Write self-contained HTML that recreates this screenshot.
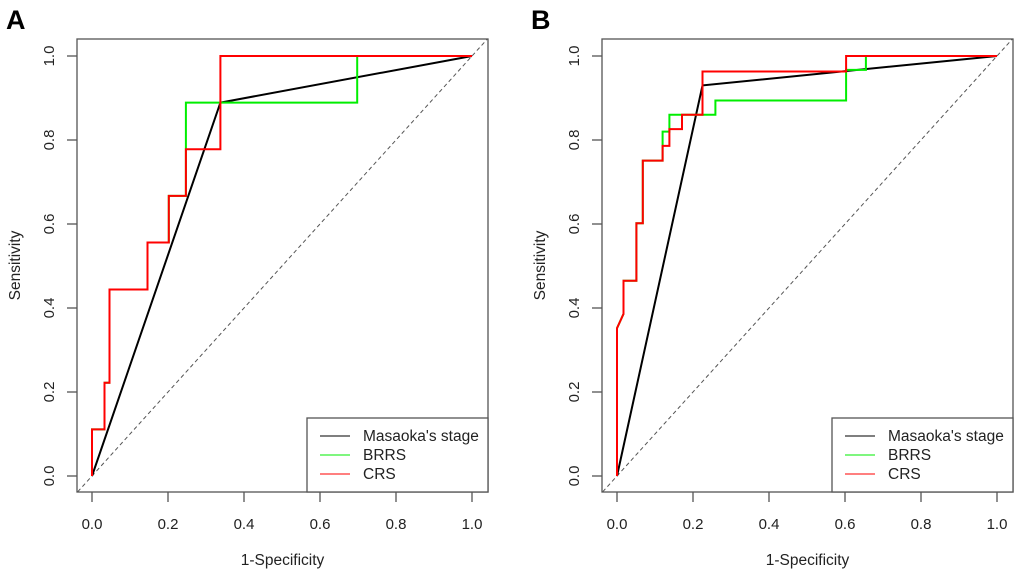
<!DOCTYPE html>
<html><head><meta charset="utf-8"><style>
html,body{margin:0;padding:0;background:#fff;}
svg{display:block;font-family:"Liberation Sans",sans-serif;}
</style></head><body>
<svg id="chart" width="1020" height="573" viewBox="0 0 1020 573"></svg>
<script>
// Panel A data
const aMasaokaX=[0,0.338,1];
const aMasaokaY=[0,0.889,1];
const aBrrsX=[0,0,0.033,0.033,0.046,0.046,0.146,0.146,0.202,0.202,0.247,0.247,0.698,0.698,1];
const aBrrsY=[0,0.111,0.111,0.222,0.222,0.444,0.444,0.556,0.556,0.667,0.667,0.889,0.889,1,1];
const aCrsX=[0,0,0.033,0.033,0.046,0.046,0.146,0.146,0.202,0.202,0.247,0.247,0.338,0.338,1];
const aCrsY=[0,0.111,0.111,0.222,0.222,0.444,0.444,0.556,0.556,0.667,0.667,0.778,0.778,1,1];
// Panel B data
const bMasaokaX=[0,0.225,1];
const bMasaokaY=[0,0.93,1];
const bBrrsX=[0,0,0.017,0.017,0.051,0.051,0.068,0.068,0.12,0.12,0.138,0.138,0.259,0.259,0.603,0.603,0.655,0.655,1];
const bBrrsY=[0,0.352,0.386,0.465,0.465,0.602,0.602,0.751,0.751,0.82,0.82,0.86,0.86,0.894,0.894,0.967,0.967,1,1];
const bCrsX=[0,0,0.017,0.017,0.051,0.051,0.068,0.068,0.12,0.12,0.138,0.138,0.171,0.171,0.225,0.225,0.603,0.603,1];
const bCrsY=[0,0.352,0.386,0.465,0.465,0.602,0.602,0.751,0.751,0.786,0.786,0.826,0.826,0.86,0.86,0.963,0.963,1,1];
const tickLabels=["0.0","0.2","0.4","0.6","0.8","1.0"];
const tickValues=[0,0.2,0.4,0.6,0.8,1];
const legendLabels=["Masaoka's stage","BRRS","CRS"];
const legendColors=["#000","#00ee00","#ff0000"];

const NS="http://www.w3.org/2000/svg";
const svg=document.getElementById('chart');
function el(tag,attrs,parent){const e=document.createElementNS(NS,tag);for(const k in attrs)e.setAttribute(k,attrs[k]);(parent||svg).appendChild(e);return e;}

function panel(letter,ox,series,pid){
  const x0=92+ox,y0=476,sx=380,sy=420;
  const X=v=>x0+v*sx, Y=v=>y0-v*sy;
  const L=77+ox,R=488+ox,T=39,B=492;
  const g=el('g',{});
  
  
  const lab=el('text',{x:6+ox,y:29,'font-size':27,'font-weight':'bold',fill:'#000'},g);
  lab.textContent=letter;
  
  
  const cid='clip'+pid;
  const cp=el('clipPath',{id:cid},g);el('rect',{x:L,y:T,width:R-L,height:B-T},cp);
  const diag=el('line',{x1:X(-0.05),y1:Y(-0.05),x2:X(1.1),y2:Y(1.1),stroke:'#555','stroke-width':1,'stroke-dasharray':'4,3','clip-path':'url(#'+cid+')'},g);
  
  
  const names=['masaoka-curve','brrs-curve','crs-curve'];
  const cols=['#000','#00ee00','#ff0000'];
  series.forEach((s,i)=>{
    const pts=s[0].map((v,j)=>X(v).toFixed(1)+','+Y(s[1][j]).toFixed(1)).join(' ');
    const p=el('polyline',{points:pts,fill:'none',stroke:cols[i],'stroke-width':2},g);
    
    
  });
  const box=el('rect',{x:L,y:T,width:R-L,height:B-T,fill:'none',stroke:'#555','stroke-width':1.3},g);
  
  
  tickValues.forEach((v,i)=>{
    el('line',{x1:X(v),y1:B,x2:X(v),y2:B+10,stroke:'#555','stroke-width':1.3},g);
    const t=el('text',{x:X(v),y:529,'font-size':15,'text-anchor':'middle',fill:'#222'},g);
    t.textContent=tickLabels[i];
    
    
    el('line',{x1:L,y1:Y(v),x2:L-10,y2:Y(v),stroke:'#555','stroke-width':1.3},g);
    const ty=el('text',{x:0,y:0,'font-size':15,'text-anchor':'middle',fill:'#222',transform:'translate('+(54+ox)+','+Y(v)+') rotate(-90)'},g);
    ty.textContent=tickLabels[i];
    
    
  });
  const xt=el('text',{x:(L+R)/2,y:565,'font-size':15.5,'text-anchor':'middle',fill:'#222'},g);
  xt.textContent='1-Specificity';
  
  
  const yt=el('text',{x:0,y:0,'font-size':15.5,'text-anchor':'middle',fill:'#222',transform:'translate('+(20+ox)+','+((T+B)/2)+') rotate(-90)'},g);
  yt.textContent='Sensitivity';
  
  
  const lg=el('g',{},g);
  
  
  const lx=307+ox;
  el('rect',{x:lx,y:418,width:R-lx,height:B-418,fill:'#fff',stroke:'#555','stroke-width':1.3},lg);
  legendLabels.forEach((n,i)=>{
    const yy=436+i*19;
    const ln=el('line',{x1:lx+13,y1:yy,x2:lx+43,y2:yy,stroke:legendColors[i],'stroke-width':1.3,opacity:0.8},lg);
    
    
    const t=el('text',{x:lx+56,y:yy+5,'font-size':15.5,fill:'#222'},lg);
    t.textContent=n;
    
    
  });
}
panel('A',0,[[aMasaokaX,aMasaokaY],[aBrrsX,aBrrsY],[aCrsX,aCrsY]],'a');
panel('B',525,[[bMasaokaX,bMasaokaY],[bBrrsX,bBrrsY],[bCrsX,bCrsY]],'b');
</script>
</body></html>
